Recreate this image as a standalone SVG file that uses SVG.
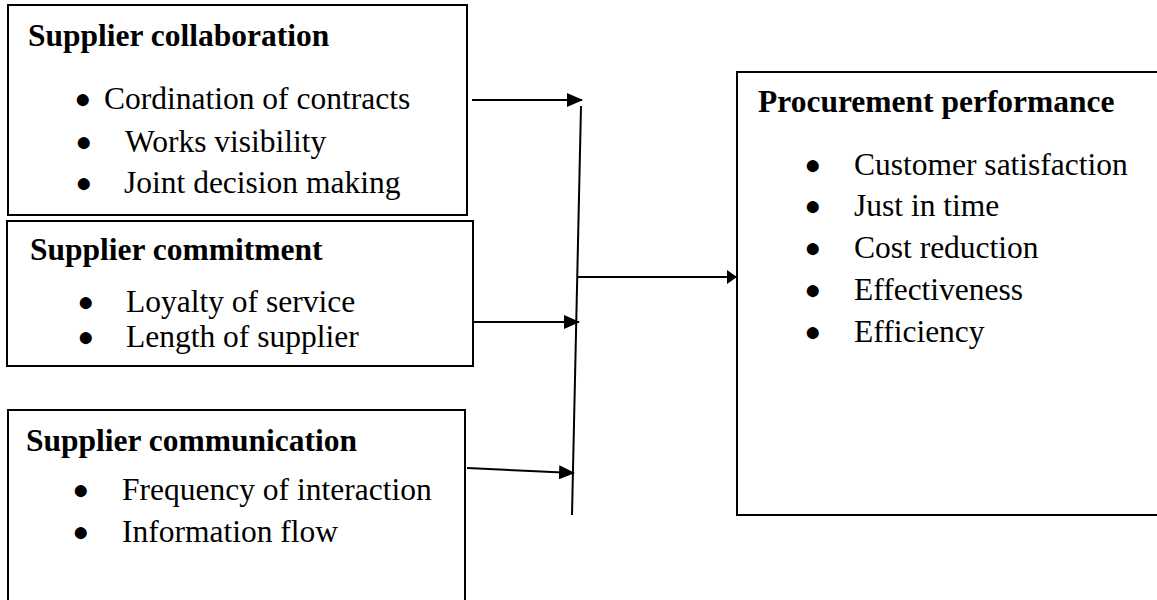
<svg xmlns="http://www.w3.org/2000/svg" width="1157" height="600" viewBox="0 0 1157 600">
<style>
.box{fill:#fff;stroke:#000;stroke-width:2}
.t{font-family:"Liberation Serif","Times New Roman",serif;font-size:31.5px;font-weight:bold;fill:#000}
.b{font-family:"Liberation Serif","Times New Roman",serif;font-size:31.5px;fill:#000}
.d{font-family:"Liberation Sans",Arial,sans-serif;font-size:28px;fill:#000;text-anchor:middle}
.ln{stroke:#000;stroke-width:2;fill:none}
</style>
<defs>
<marker id="ah" markerWidth="16" markerHeight="14" refX="15" refY="7" orient="auto" markerUnits="userSpaceOnUse">
<path d="M0,0 L16,7 L0,14 Z" fill="#000"/>
</marker>
<marker id="ah2" markerWidth="10" markerHeight="14" refX="10" refY="7" orient="auto" markerUnits="userSpaceOnUse">
<path d="M0,0 L10,7 L0,14 Z" fill="#000"/>
</marker>
</defs>
<g id="collaboration">
<rect class="box" x="8" y="5" width="459" height="210"/>
<text class="t" x="28" y="46">Supplier collaboration</text>
<text class="d" x="83" y="108">●</text><text class="b" x="104" y="109">Cordination of contracts</text>
<text class="d" x="84" y="151">●</text><text class="b" x="125" y="152">Works visibility</text>
<text class="d" x="84" y="192">●</text><text class="b" x="124" y="193">Joint decision making</text>
</g>
<g id="commitment">
<rect class="box" x="7" y="221" width="466" height="145"/>
<text class="t" x="30" y="260">Supplier commitment</text>
<text class="d" x="86" y="311">●</text><text class="b" x="126" y="312">Loyalty of service</text>
<text class="d" x="86" y="346">●</text><text class="b" x="126" y="347">Length of supplier</text>
</g>
<g id="communication">
<rect class="box" x="8" y="410" width="457" height="200"/>
<text class="t" x="26" y="451">Supplier communication</text>
<text class="d" x="81" y="499">●</text><text class="b" x="122" y="500">Frequency of interaction</text>
<text class="d" x="81" y="541">●</text><text class="b" x="122" y="542">Information flow</text>
</g>
<g id="performance">
<rect class="box" x="737" y="72" width="440" height="443"/>
<text class="t" x="758" y="112">Procurement performance</text>
<text class="d" x="813" y="174">●</text><text class="b" x="854" y="175">Customer satisfaction</text>
<text class="d" x="813" y="215">●</text><text class="b" x="854" y="216">Just in time</text>
<text class="d" x="813" y="257">●</text><text class="b" x="854" y="258">Cost reduction</text>
<text class="d" x="813" y="299">●</text><text class="b" x="854" y="300">Effectiveness</text>
<text class="d" x="813" y="341">●</text><text class="b" x="854" y="342">Efficiency</text>
</g>
<g id="connectors">
<line class="ln" x1="472" y1="100" x2="582" y2="100" marker-end="url(#ah)"/>
<line class="ln" x1="581" y1="106" x2="572" y2="515"/>
<line class="ln" x1="472" y1="322" x2="579" y2="322" marker-end="url(#ah)"/>
<line class="ln" x1="467" y1="468" x2="574" y2="473" marker-end="url(#ah)"/>
<line class="ln" x1="578" y1="277" x2="737" y2="277" marker-end="url(#ah2)"/>
</g>
</svg>
